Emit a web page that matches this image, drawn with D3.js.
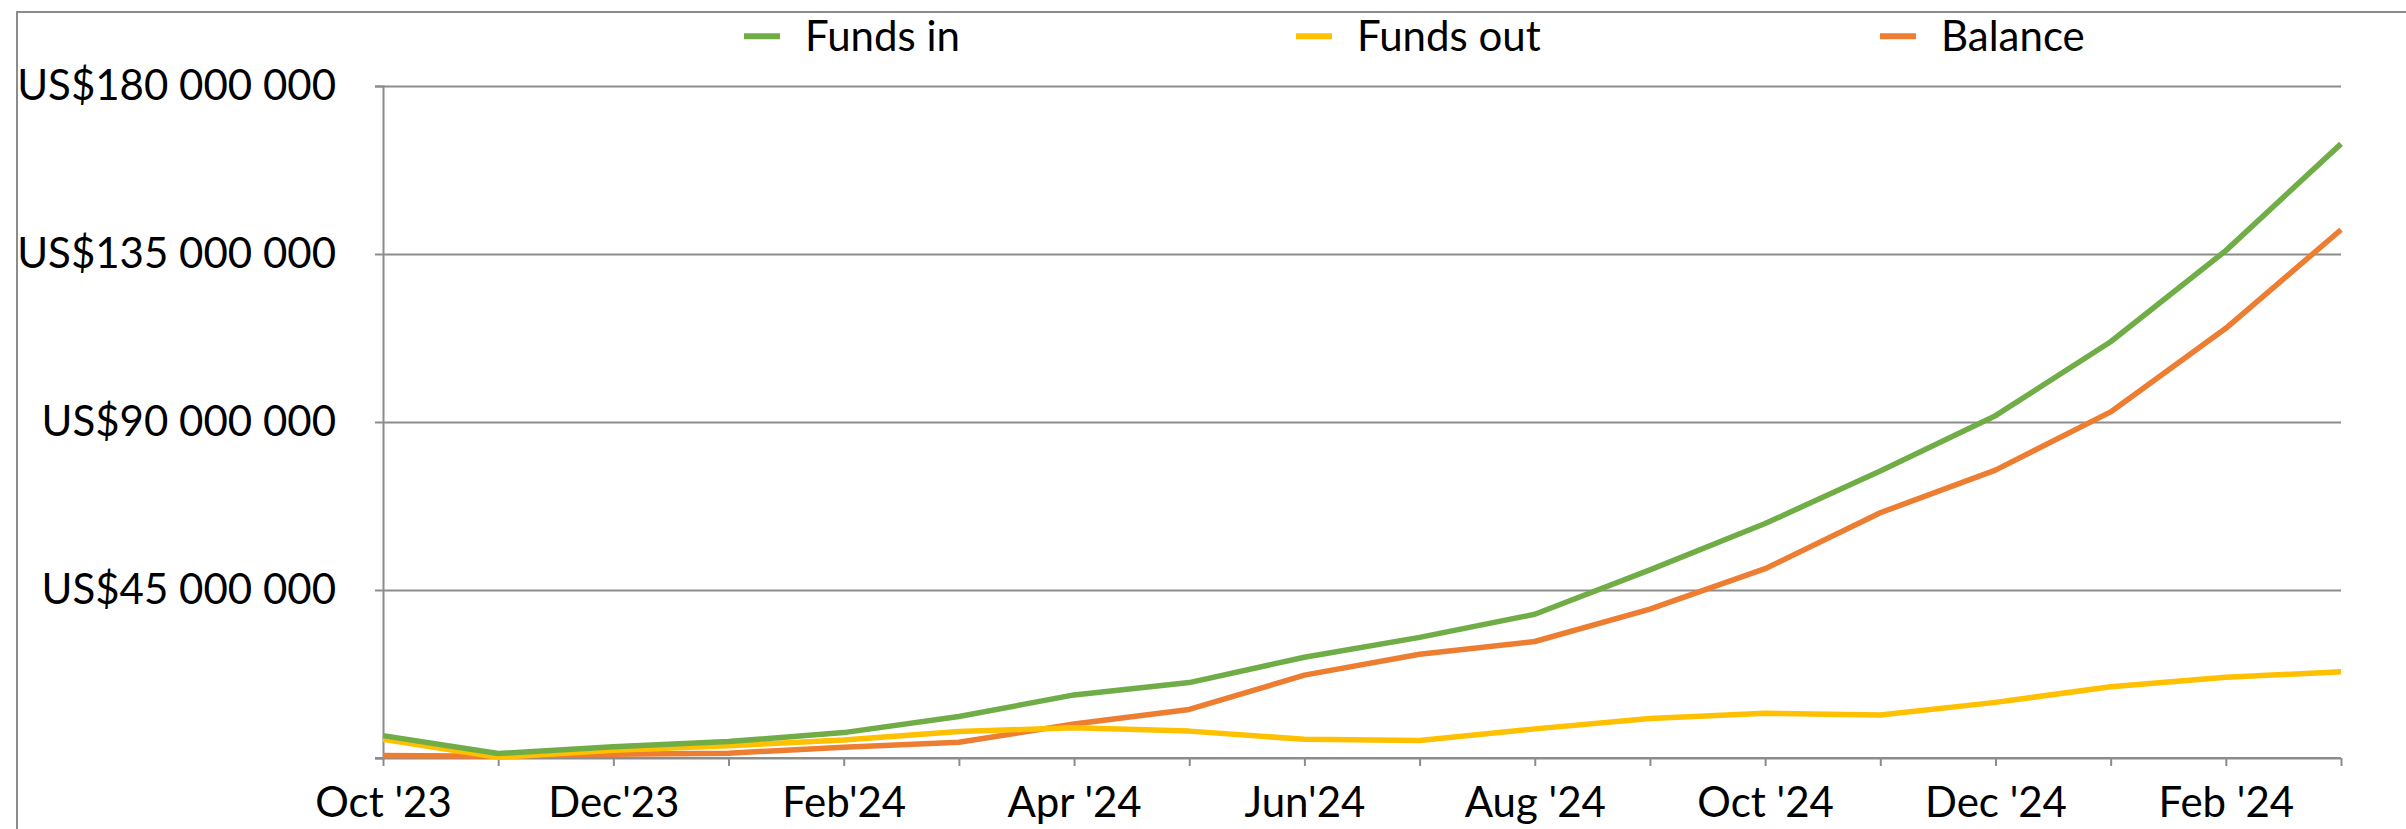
<!DOCTYPE html>
<html>
<head>
<meta charset="utf-8">
<script src="https://cdn.jsdelivr.net/npm/d3@7"></script>
<style>
  html, body { margin: 0; padding: 0; background: #ffffff; }
  svg { display: block; }
  text { font-family: Lato, "Open Sans", sans-serif; fill: #000000; }
</style>
</head>
<body>
<svg id="chart" width="2406" height="829"></svg>
<script>
// ---------- data ----------
const categories = ["Oct '23", "Nov '23", "Dec'23", "Jan '24", "Feb'24", "Mar '24",
  "Apr '24", "May '24", "Jun'24", "Jul '24", "Aug '24", "Sep '24",
  "Oct '24", "Nov '24", "Dec '24", "Jan '25", "Feb '24", "Mar '25"];
const tickLabels = ["Oct '23", "", "Dec'23", "", "Feb'24", "", "Apr '24", "", "Jun'24", "",
  "Aug '24", "", "Oct '24", "", "Dec '24", "", "Feb '24", ""];
const fundsIn = [6.0e6, 1.2e6, 3.0e6, 4.4e6, 6.8e6, 11.1e6, 16.9e6, 20.2e6, 27.0e6, 32.3e6,
  38.5e6, 50.4e6, 62.8e6, 76.9e6, 91.7e6, 111.5e6, 135.9e6, 164.5e6];
const fundsOut = [5.0e6, 0.2e6, 2.1e6, 3.3e6, 4.8e6, 7.1e6, 8.1e6, 7.2e6, 5.0e6, 4.7e6,
  7.8e6, 10.6e6, 12.0e6, 11.5e6, 14.9e6, 19.1e6, 21.6e6, 23.1e6];
const balance = [0.7e6, 0.5e6, 1.0e6, 1.3e6, 2.9e6, 4.2e6, 9.1e6, 13.0e6, 22.2e6, 27.8e6,
  31.2e6, 39.9e6, 50.7e6, 65.7e6, 77.1e6, 92.7e6, 115.1e6, 141.5e6];
const yTicks = [0, 45e6, 90e6, 135e6, 180e6];
const yTickLabels = ["", "US$45 000 000", "US$90 000 000", "US$135 000 000", "US$180 000 000"];
const seriesNames = ["Funds in", "Funds out", "Balance"];
const seriesColors = ["#70AD47", "#FFC000", "#ED7D31"];

// ---------- layout ----------
const svg = d3.select("#chart");
const plot = { left: 383, right: 2341, top: 86, bottom: 758 };
const gridColor = "#8c8c8c";

const x = d3.scalePoint().domain(categories).range([plot.left, plot.right]);
const y = d3.scaleLinear().domain([0, 180e6]).range([plot.bottom, plot.top]);

// outer chart border (left and top visible)
svg.append("path")
  .attr("d", `M17,829 L17,12 L2406,12`)
  .attr("fill", "none").attr("stroke", gridColor).attr("stroke-width", 2);

// y axis with gridlines
const yAxis = d3.axisLeft(y)
  .tickValues(yTicks)
  .tickSize(8)
  .tickPadding(39)
  .tickFormat((d, i) => yTickLabels[i]);
const gy = svg.append("g").attr("transform", `translate(${plot.left},0)`).call(yAxis);
gy.select(".domain").attr("stroke", gridColor).attr("stroke-width", 2);
gy.selectAll(".tick line").attr("stroke", gridColor).attr("stroke-width", 2);
gy.selectAll(".tick text")
  .attr("font-size", 42)
  .attr("font-family", "Lato, 'Open Sans', sans-serif")
  .attr("fill", "#000");
gy.selectAll(".tick").append("line")
  .attr("class", "grid")
  .attr("x1", 0).attr("x2", plot.right - plot.left)
  .attr("stroke", gridColor).attr("stroke-width", 2);

// x axis
const xAxis = d3.axisBottom(x)
  .tickSize(8)
  .tickSizeOuter(0)
  .tickPadding(21)
  .tickFormat((d, i) => tickLabels[i]);
const gx = svg.append("g").attr("transform", `translate(0,${plot.bottom})`).call(xAxis);
gx.select(".domain").remove();
gx.append("line")
  .attr("x1", plot.left - 8).attr("x2", plot.right)
  .attr("stroke", gridColor).attr("stroke-width", 2);
gx.selectAll(".tick line").attr("stroke", gridColor).attr("stroke-width", 2);
gx.selectAll(".tick text")
  .attr("font-size", 42)
  .attr("font-family", "Lato, 'Open Sans', sans-serif")
  .attr("fill", "#000");

// lines
const seriesData = [fundsIn, fundsOut, balance];
const line = d3.line()
  .x((d, i) => x(categories[i]))
  .y(d => y(d));
const drawOrder = [2, 1, 0];
drawOrder.forEach(k => {
  svg.append("path")
    .datum(seriesData[k])
    .attr("d", line)
    .attr("fill", "none")
    .attr("stroke", seriesColors[k])
    .attr("stroke-width", 5.5)
    .attr("stroke-linejoin", "round")
    .attr("stroke-linecap", "butt");
});

// legend
const legendX = [744, 1296, 1880];
const legend = svg.append("g");
seriesNames.forEach((name, k) => {
  legend.append("line")
    .attr("x1", legendX[k]).attr("x2", legendX[k] + 36)
    .attr("y1", 36.3).attr("y2", 36.3)
    .attr("stroke", seriesColors[k]).attr("stroke-width", 6);
  legend.append("text")
    .attr("x", legendX[k] + 61).attr("y", 51)
    .attr("font-size", 42)
    .text(name);
});
</script>
</body>
</html>
